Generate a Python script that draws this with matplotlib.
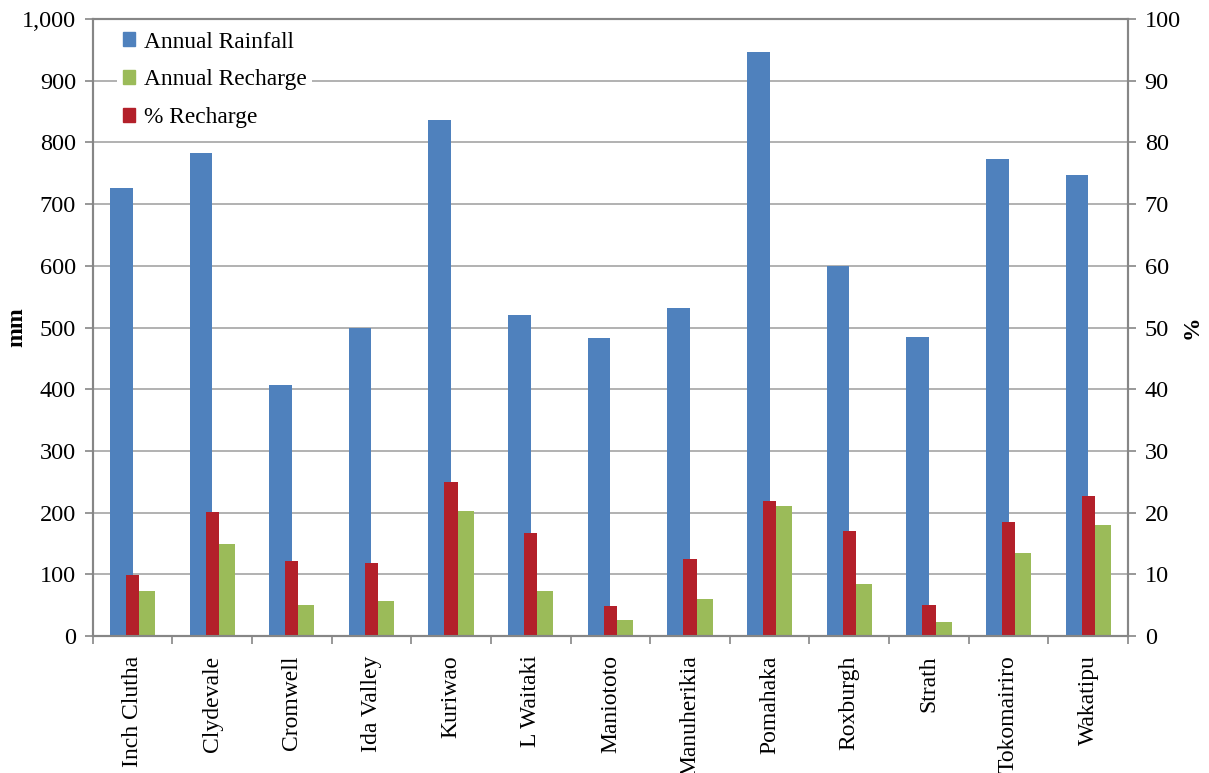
import numpy as np
import matplotlib.pyplot as plt
from matplotlib.patches import Patch

plt.rcParams['font.family'] = ['Liberation Serif', 'DejaVu Serif']

sites = ["Inch Clutha", "Clydevale", "Cromwell", "Ida Valley", "Kuriwao", "L Waitaki",
         "Maniototo", "Manuherikia", "Pomahaka", "Roxburgh", "Strath", "Tokomairiro", "Wakatipu"]
rainfall = [726, 783, 407, 499, 836, 521, 483, 531, 946, 600, 485, 773, 747]
recharge = [73, 149, 50, 56, 203, 73, 26, 60, 210, 85, 22, 135, 180]
pct_recharge = [9.9, 20.1, 12.1, 11.9, 25.0, 16.7, 4.9, 12.5, 21.9, 17.0, 5.1, 18.4, 22.7]

blue = '#4F81BD'
green = '#9BBB59'
red = '#B3202A'
grey = '#868686'

fig = plt.figure(figsize=(12.09, 7.73), dpi=100)
ax = fig.add_axes([0.0767, 0.1772, 0.8563, 0.7982])
ax2 = ax.twinx()

x = np.arange(len(sites))
w = 0.284
ax.bar(x - w / 2, rainfall, w, color=blue, zorder=2)
ax.bar(x + w / 2, recharge, w, color=green, zorder=2)
ax2.bar(x, pct_recharge, 0.167, color=red, zorder=2)

ax.set_xlim(-0.5, len(sites) - 0.5)
ax.set_ylim(0, 1000)
ax2.set_ylim(0, 100)
ax.set_yticks(np.arange(0, 1001, 100))
ax.set_yticklabels([f"{v:,}" for v in range(0, 1001, 100)])
ax2.set_yticks(np.arange(0, 101, 10))

ax.set_xticks(x)
ax.set_xticklabels(sites, rotation=90, fontsize=17)
ax.set_xticks(np.arange(-0.5, len(sites), 1), minor=True)
ax.tick_params(axis='x', which='major', length=0, pad=14)
ax.tick_params(axis='x', which='minor', length=6, color=grey, width=1.2, direction='out')

ax.tick_params(axis='y', labelsize=17.5, length=6, color=grey, width=1.2, direction='out', pad=6)
ax2.tick_params(axis='y', labelsize=17.5, length=6, color=grey, width=1.2, direction='out', pad=6)

ax.yaxis.grid(True, color=grey, linewidth=1.2, alpha=0.75, zorder=0)
ax.set_axisbelow(True)
ax2.patch.set_visible(False)

for a in (ax, ax2):
    for s in a.spines.values():
        s.set_color(grey)
        s.set_linewidth(1.5)

ax.set_ylabel("mm", fontsize=17, fontweight='bold')
ax.yaxis.set_label_coords(-0.063, 0.5)
ax2.set_ylabel("%", fontsize=17, fontweight='bold')
ax2.yaxis.set_label_coords(1.052, 0.5)

handles = [Patch(color=blue), Patch(color=green), Patch(color=red)]
labels = ["Annual Rainfall", "Annual Recharge", "% Recharge"]
leg = ax2.legend(handles, labels, loc='upper left', bbox_to_anchor=(0.012, 1.008),
                 fontsize=16.8, frameon=True, fancybox=False, edgecolor='none',
                 framealpha=1, handlelength=0.55, handleheight=0.55,
                 handletextpad=0.35, labelspacing=0.72, borderpad=0.25)

fig.savefig("out.png", dpi=100)
